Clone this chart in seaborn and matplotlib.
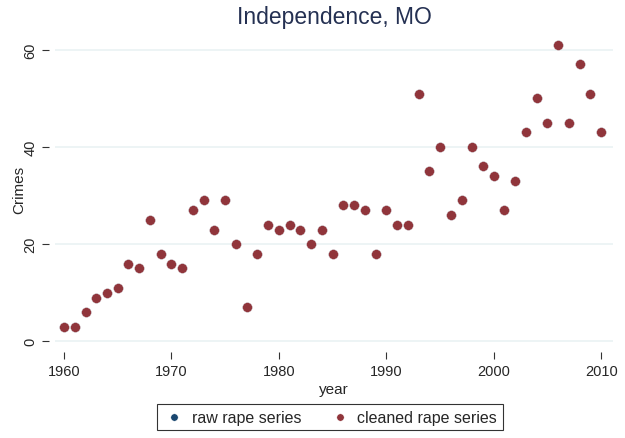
import pandas as pd
import seaborn as sns
import matplotlib.pyplot as plt

sns.set_style('white')
plt.rcParams['font.family'] = ['Liberation Sans', 'DejaVu Sans']

# 年份与犯罪数（原始序列与清洗后序列相同）
years = list(range(1960, 2011))
raw_crimes = [3, 3, 6, 9, 10, 11, 16, 15, 25, 18,
              16, 15, 27, 29, 23, 29, 20, 7, 18, 24,
              23, 24, 23, 20, 23, 18, 28, 28, 27, 18,
              27, 24, 24, 51, 35, 40, 26, 29, 40, 36,
              34, 27, 33, 43, 50, 45, 61, 45, 57, 51,
              43]
cleaned_crimes = list(raw_crimes)

df = pd.DataFrame({'year': years, 'raw': raw_crimes, 'cleaned': cleaned_crimes})

W, H = 625, 439
fig = plt.figure(figsize=(W / 100, H / 100), dpi=100)
ax = fig.add_axes([55 / W, 1 - 350 / H, (613 - 55) / W, (350 - 30) / H])

sns.scatterplot(data=df, x='year', y='raw', ax=ax, color='#1a476f', s=50,
                edgecolor='white', linewidth=0.3, label='raw rape series', zorder=3)
sns.scatterplot(data=df, x='year', y='cleaned', ax=ax, color='#90353b', s=50,
                edgecolor='white', linewidth=0.3, label='cleaned rape series', zorder=4)

ax.set_xlim(1959.16, 2011.1)
ax.set_ylim(-1.6, 64.3)
ax.set_xticks([1960, 1970, 1980, 1990, 2000, 2010])
ax.set_yticks([0, 20, 40, 60])
ax.grid(axis='y', color='#eaf2f3', linewidth=1.2)
ax.grid(axis='x', visible=False)
for s in ax.spines.values():
    s.set_visible(False)
ax.spines['left'].set_position(('outward', 4))
ax.spines['bottom'].set_position(('outward', 2))
ax.tick_params(axis='both', which='major', length=5, width=0.8, color='#333333',
               labelsize=10.5, left=True, bottom=True)
plt.setp(ax.get_yticklabels(), rotation=90, va='center')
ax.set_xlabel('year', fontsize=11, labelpad=3)
ax.set_ylabel('Crimes', fontsize=11, labelpad=-2)
ax.set_title('Independence, MO', fontsize=16.5, color='#243052', pad=4)

ax.legend(loc='center', bbox_to_anchor=(330 / W, 1 - 418 / H), bbox_transform=fig.transFigure,
          ncol=2, frameon=True, fancybox=False, edgecolor='black', fontsize=11.5,
          markerscale=0.75, handletextpad=0.4, handlelength=1.4, columnspacing=1.7,
          borderpad=0.35)
ax.get_legend().get_frame().set_linewidth(0.8)

fig.savefig('out.png', dpi=100)
